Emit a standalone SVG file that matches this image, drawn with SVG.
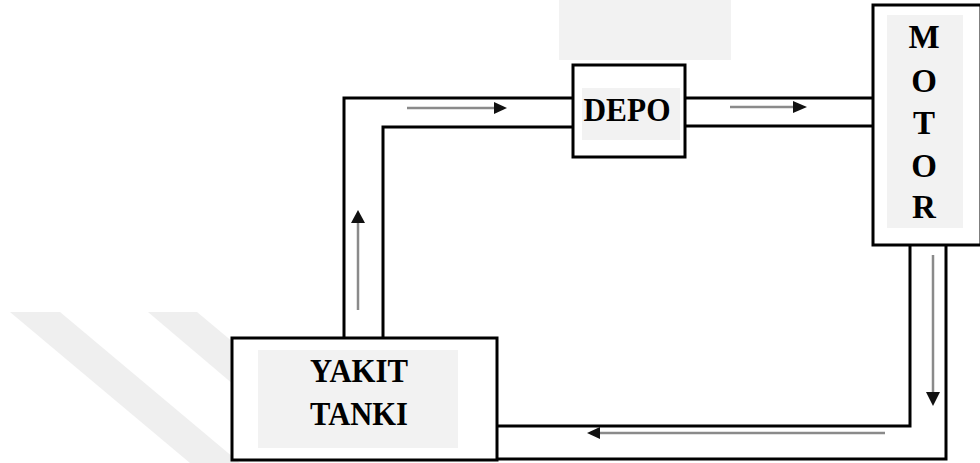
<svg xmlns="http://www.w3.org/2000/svg" width="980" height="463" viewBox="0 0 980 463">
<defs>
<style>
.box{fill:#ffffff;stroke:#000;stroke-width:3}
.inner{fill:#f2f2f2}
.pipe{fill:none;stroke:#000;stroke-width:3}
.flow{fill:none;stroke:#8a8a8a;stroke-width:2.5}
.head{fill:#111}
.lbl{font-family:"Liberation Serif","Times New Roman",serif;font-weight:bold;font-size:33px;fill:#000;text-anchor:middle}
.wm{fill:#efefef}
</style>
</defs>
<rect width="980" height="463" fill="#fff"/>
<g id="background">
<rect x="559" y="0" width="172" height="60" fill="#f2f2f2"/>
<polygon class="wm" points="10,312 60,312 240,463 190,463"/>
<polygon class="wm" points="148,312 197,312 240,348 240,390"/>
</g>
<g id="connectors">
<path class="pipe" d="M344,338 V98 H573"/>
<path class="pipe" d="M383,338 V127 H573"/>
<path class="pipe" d="M685,98 H873"/>
<path class="pipe" d="M685,126 H873"/>
<path class="pipe" d="M910,245 V426 H497"/>
<path class="pipe" d="M946,245 V459 H497"/>
<line class="flow" x1="407" y1="108" x2="496" y2="108"/>
<polygon class="head" points="494,102 507,108 494,114"/>
<line class="flow" x1="730" y1="107" x2="794" y2="107"/>
<polygon class="head" points="793,101 807,107 793,113"/>
<line class="flow" x1="358" y1="310" x2="358" y2="222"/>
<polygon class="head" points="351,223 358,210 365,223"/>
<line class="flow" x1="933" y1="255" x2="933" y2="393"/>
<polygon class="head" points="926,392 933,406 940,392"/>
<line class="flow" x1="885" y1="433" x2="598" y2="433"/>
<polygon class="head" points="600,427 587,433 600,439"/>
</g>
<g id="depo">
<rect class="box" x="573" y="65" width="112" height="92"/>
<rect class="inner" x="582" y="88" width="98" height="52"/>
<text class="lbl" x="627" y="121" textLength="87" lengthAdjust="spacingAndGlyphs">DEPO</text>
</g>
<g id="motor">
<rect class="box" x="873" y="5" width="108" height="240"/>
<rect class="inner" x="887" y="15" width="76" height="213"/>
<text class="lbl" x="924" y="48">M</text>
<text class="lbl" x="924" y="92">O</text>
<text class="lbl" x="924" y="134">T</text>
<text class="lbl" x="924" y="177">O</text>
<text class="lbl" x="924" y="218">R</text>
</g>
<g id="yakit-tanki">
<rect class="box" x="232" y="338" width="265" height="122"/>
<rect class="inner" x="258" y="350" width="200" height="98"/>
<text class="lbl" x="359" y="382" textLength="98" lengthAdjust="spacingAndGlyphs">YAKIT</text>
<text class="lbl" x="359" y="425" textLength="98" lengthAdjust="spacingAndGlyphs">TANKI</text>
</g>
</svg>
